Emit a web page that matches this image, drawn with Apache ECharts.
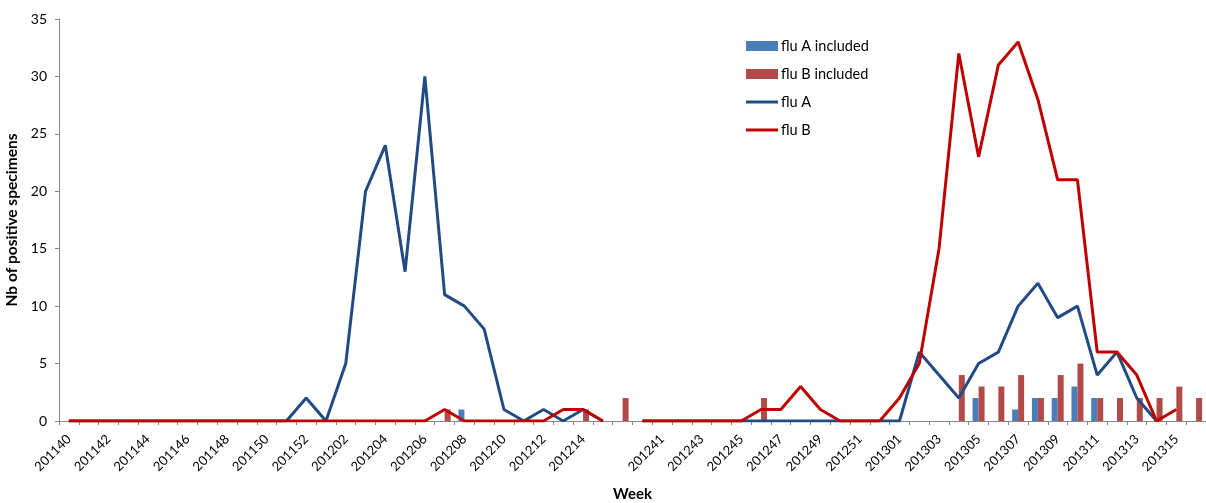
<!DOCTYPE html>
<html>
<head>
<meta charset="utf-8">
<style>
  html, body { margin: 0; padding: 0; background: #fff; }
  #chart { width: 1206px; height: 503px; }
</style>
<script src="https://cdn.jsdelivr.net/npm/echarts@6/dist/echarts.min.js"></script>
</head>
<body>
<div id="chart"></div>
<script>
// Surveillance weeks (two seasons, separated by an unlabelled slot)
const weeks = [
  '201140','201141','201142','201143','201144','201145','201146','201147','201148','201149','201150','201151','201152',
  '201201','201202','201203','201204','201205','201206','201207','201208','201209','201210','201211','201212','201213','201214','201215',
  '',
  '201240','201241','201242','201243','201244','201245','201246','201247','201248','201249','201250','201251','201252',
  '201301','201302','201303','201304','201305','201306','201307','201308','201309','201310','201311','201312','201313','201314','201315','201316'
];

// Weekly positive specimens per virus type
const fluA = [
  0,0,0,0,0,0,0,0,0,0,0,0,2,
  0,5,20,24,13,30,11,10,8,1,0,1,0,1,0,
  null,
  0,0,0,0,0,0,0,0,0,0,0,0,0,
  0,6,4,2,5,6,10,12,9,10,4,6,2,0,null,null
];
const fluB = [
  0,0,0,0,0,0,0,0,0,0,0,0,0,
  0,0,0,0,0,0,1,0,0,0,0,0,1,1,0,
  null,
  0,0,0,0,0,0,1,1,3,1,0,0,0,
  2,5,15,32,23,31,33,28,21,21,6,6,4,0,1,null
];

// Specimens included in the detailed analysis
const fluAIncluded = [
  null,null,null,null,null,null,null,null,null,null,null,null,null,
  null,null,null,null,null,null,null,1,null,null,null,null,null,null,null,
  null,
  null,null,null,null,null,null,null,null,null,null,null,null,null,
  null,null,null,null,2,null,1,2,2,3,2,null,null,null,null,null
];
const fluBIncluded = [
  null,null,null,null,null,null,null,null,null,null,null,null,null,
  null,null,null,null,null,null,1,null,null,null,null,null,null,1,null,
  2,
  null,null,null,null,null,null,2,null,null,null,null,null,null,
  null,null,null,4,3,3,4,2,4,5,2,2,2,2,3,2
];

const yTicks = { min: 0, max: 35, step: 5 };

const FONT = 'Lato, "Open Sans", sans-serif';
const LINE_ICON = 'path://M0 0H32V3H0Z';
const chart = echarts.init(document.getElementById('chart'));

chart.setOption({
  animation: false,
  textStyle: { fontFamily: FONT, color: '#000' },
  grid: { left: 59, right: 0, top: 19, bottom: 82, containLabel: false, outerBoundsMode: 'none' },
  legend: {
    orient: 'vertical',
    left: 746,
    top: 38,
    padding: 0,
    itemWidth: 32,
    itemHeight: 10,
    itemGap: 12,
    symbolKeepAspect: true,
    textStyle: { fontFamily: FONT, fontSize: 14.5, lineHeight: 16, color: '#000', padding: [0, 0, 0, -2] },
    data: [
      { name: 'flu A included', icon: 'rect' },
      { name: 'flu B included', icon: 'rect' },
      { name: 'flu A', icon: LINE_ICON },
      { name: 'flu B', icon: LINE_ICON }
    ]
  },
  xAxis: {
    type: 'category',
    data: weeks,
    boundaryGap: true,
    name: 'Week',
    nameLocation: 'middle',
    nameGap: 66,
    nameTextStyle: { fontFamily: FONT, fontSize: 15, fontWeight: 'bold', color: '#000' },
    axisLine: { lineStyle: { color: '#868686', width: 1 } },
    axisTick: { show: true, interval: 0, length: 4, lineStyle: { color: '#868686' } },
    axisLabel: {
      interval: 1,
      rotate: 45,
      fontSize: 13,
      color: '#000',
      margin: 16,
      fontFamily: FONT
    },
    splitLine: { show: false }
  },
  yAxis: {
    type: 'value',
    min: yTicks.min,
    max: yTicks.max,
    interval: yTicks.step,
    name: 'Nb of positive specimens',
    nameLocation: 'middle',
    nameGap: 28,
    nameTextStyle: { fontFamily: FONT, fontSize: 15.5, fontWeight: 'bold', color: '#000' },
    axisLine: { show: true, lineStyle: { color: '#868686', width: 1 } },
    axisTick: { show: true, length: 4, lineStyle: { color: '#868686' } },
    axisLabel: { fontSize: 14, color: '#000', margin: 12, fontFamily: FONT },
    splitLine: { show: false }
  },
  series: [
    {
      name: 'flu A included',
      type: 'bar',
      data: fluAIncluded,
      barWidth: 6,
      barGap: '0%',
      itemStyle: { color: '#4A7EBB' }
    },
    {
      name: 'flu B included',
      type: 'bar',
      data: fluBIncluded,
      barWidth: 6,
      barGap: '0%',
      itemStyle: { color: '#B14A48' }
    },
    {
      name: 'flu A',
      type: 'line',
      data: fluA,
      symbol: 'none',
      connectNulls: false,
      lineStyle: { color: '#234B83', width: 3 },
      itemStyle: { color: '#234B83' }
    },
    {
      name: 'flu B',
      type: 'line',
      data: fluB,
      symbol: 'none',
      connectNulls: false,
      lineStyle: { color: '#C00000', width: 3 },
      itemStyle: { color: '#C00000' }
    }
  ]
});
</script>
</body>
</html>
